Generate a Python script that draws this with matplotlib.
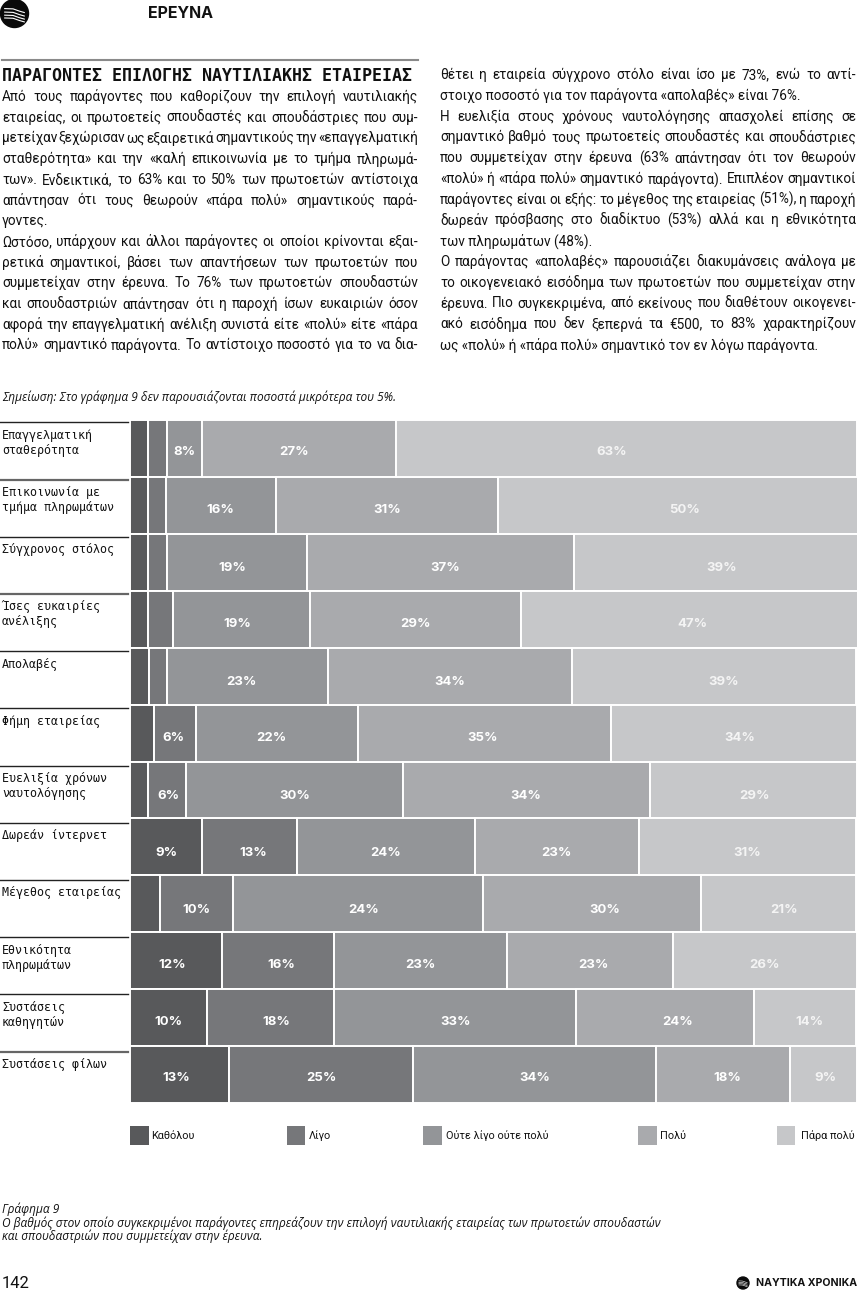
import matplotlib
matplotlib.use('Agg')
import matplotlib.pyplot as plt
from matplotlib.patches import Circle, Rectangle

# factors, top to bottom
factors = [
    'Επαγγελματική\nσταθερότητα', 'Επικοινωνία με\nτμήμα πληρωμάτων', 'Σύγχρονος στόλος',
    'Ίσες ευκαιρίες\nανέλιξης', 'Απολαβές', 'Φήμη εταιρείας',
    'Ευελιξία χρόνων\nναυτολόγησης', 'Δωρεάν ίντερνετ', 'Μέγεθος εταιρείας',
    'Εθνικότητα\nπληρωμάτων', 'Συστάσεις\nκαθηγητών', 'Συστάσεις φίλων',
]
answers = ['Καθόλου', 'Λίγο', 'Ούτε λίγο ούτε πολύ', 'Πολύ', 'Πάρα πολύ']

# segment lengths as measured on the page (share of bar length, in %).
# the printed figure does not scale them exactly to its labels, so the two are kept apart
katholou = [2.4, 2.4, 2.4, 2.4, 2.6, 3.2, 2.4, 9.9, 4.1, 12.6, 10.5, 13.6]
ligo = [2.6, 2.5, 2.6, 3.5, 2.5, 5.9, 5.3, 13.1, 10.0, 15.5, 17.6, 25.3]
oute = [4.9, 15.1, 19.3, 18.9, 22.1, 22.2, 29.8, 24.4, 34.4, 23.7, 33.3, 33.5]
polu = [26.7, 30.6, 36.8, 29.0, 33.6, 34.9, 34.0, 22.6, 30.1, 22.9, 24.5, 18.4]
para_polu = [63.4, 49.5, 39.0, 46.3, 39.1, 33.8, 28.5, 29.9, 21.3, 25.3, 14.0, 9.2]

# printed labels, '' where the segment has none (under 5%)
katholou_lbl = ['', '', '', '', '', '', '', '9%', '', '12%', '10%', '13%']
ligo_lbl = ['', '', '', '', '', '6%', '6%', '13%', '10%', '16%', '18%', '25%']
oute_lbl = ['8%', '16%', '19%', '19%', '23%', '22%', '30%', '24%', '24%', '23%', '33%', '34%']
polu_lbl = ['27%', '31%', '37%', '29%', '34%', '35%', '34%', '23%', '30%', '23%', '24%', '18%']
para_polu_lbl = ['63%', '50%', '39%', '47%', '39%', '34%', '29%', '31%', '21%', '26%', '14%', '9%']

colors = ['#58595b', '#76777a', '#939598', '#a9aaad', '#c6c7c9']

# labels sit a bit off centre in the original (pixels, per row and segment)
nudge_x = [
    [0, 0, 0, -5, -15], [0, 0, 0, 0, 7], [0, 0, -4, 5, 6], [0, 0, -5, 0, 3],
    [0, 0, -6, 0, 10], [0, -2, -6, -2, 6], [0, 1, 0, 0, 1], [0, 3, 0, 0, 0],
    [0, 0, 6, 13, 5], [-4, 3, 0, 4, 0], [0, 6, 0, 12, 4], [-3, 0, 0, 4, 2],
]
nudge_y = [4, 5, 6, 5, 6, 5, 6, 6, 6, 4, 4, 3]

left_col = [
    ('Από τους παράγοντες που καθορίζουν την επιλογή ναυτιλιακής', True),
    ('εταιρείας, οι πρωτοετείς σπουδαστές και σπουδάστριες που συμ-', True),
    ('μετείχαν ξεχώρισαν ως εξαιρετικά σημαντικούς την «επαγγελματική', True),
    ('σταθερότητα» και την «καλή επικοινωνία με το τμήμα πληρωμά-', True),
    ('των». Ενδεικτικά, το 63% και το 50% των πρωτοετών αντίστοιχα', True),
    ('απάντησαν ότι τους θεωρούν «πάρα πολύ» σημαντικούς παρά-', True),
    ('γοντες.', False),
    ('Ωστόσο, υπάρχουν και άλλοι παράγοντες οι οποίοι κρίνονται εξαι-', True),
    ('ρετικά σημαντικοί, βάσει των απαντήσεων των πρωτοετών που', True),
    ('συμμετείχαν στην έρευνα. Το 76% των πρωτοετών σπουδαστών', True),
    ('και σπουδαστριών απάντησαν ότι η παροχή ίσων ευκαιριών όσον', True),
    ('αφορά την επαγγελματική ανέλιξη συνιστά είτε «πολύ» είτε «πάρα', True),
    ('πολύ» σημαντικό παράγοντα. Το αντίστοιχο ποσοστό για το να δια-', True),
]
right_col = [
    ('θέτει η εταιρεία σύγχρονο στόλο είναι ίσο με 73%, ενώ το αντί-', True),
    ('στοιχο ποσοστό για τον παράγοντα «απολαβές» είναι 76%.', False),
    ('Η ευελιξία στους χρόνους ναυτολόγησης απασχολεί επίσης σε', True),
    ('σημαντικό βαθμό τους πρωτοετείς σπουδαστές και σπουδάστριες', True),
    ('που συμμετείχαν στην έρευνα (63% απάντησαν ότι τον θεωρούν', True),
    ('«πολύ» ή «πάρα πολύ» σημαντικό παράγοντα). Επιπλέον σημαντικοί', True),
    ('παράγοντες είναι οι εξής: το μέγεθος της εταιρείας (51%), η παροχή', True),
    ('δωρεάν πρόσβασης στο διαδίκτυο (53%) αλλά και η εθνικότητα', True),
    ('των πληρωμάτων (48%).', False),
    ('Ο παράγοντας «απολαβές» παρουσιάζει διακυμάνσεις ανάλογα με', True),
    ('το οικογενειακό εισόδημα των πρωτοετών που συμμετείχαν στην', True),
    ('έρευνα. Πιο συγκεκριμένα, από εκείνους που διαθέτουν οικογενει-', True),
    ('ακό εισόδημα που δεν ξεπερνά τα  €500, το 83% χαρακτηρίζουν', True),
    ('ως «πολύ» ή «πάρα πολύ» σημαντικό τον εν λόγω παράγοντα.', False),
]

BODY = 'Roboto'
ITALIC = 'Open Sans'
MONO = 'DejaVu Sans Mono'
W, H = 858, 1291

fig = plt.figure(figsize=(W / 100, H / 100), dpi=100, facecolor='white')

# whole page in pixel coordinates, for the text around the chart
page = fig.add_axes([0, 0, 1, 1])
page.set_xlim(0, W)
page.set_ylim(H, 0)
page.axis('off')


def put_line(x0, x1, y, line, justify):
    if not justify:
        page.text(x0, y, line, family=BODY, fontsize=9.8, va='center', color='#111111')
        return
    words = line.split()
    renderer = fig.canvas.get_renderer()
    items = [page.text(0, y, w, family=BODY, fontsize=9.8, va='center', color='#111111') for w in words]
    widths = [t.get_window_extent(renderer).width for t in items]
    gap = (x1 - x0 - sum(widths)) / (len(words) - 1)
    x = x0
    for t, w in zip(items, widths):
        t.set_x(x)
        x += w + gap


def logo(cx, cy, r, lw):
    page.add_patch(Circle((cx, cy), r, color='#0a0a0a', zorder=3))
    for dy in (-0.35, -0.1, 0.12, 0.32):
        page.plot([cx - 0.7 * r, cx - 0.1 * r, cx + 0.35 * r, cx + 0.7 * r],
                  [cy + dy * r, cy + (dy + 0.02) * r, cy + (dy + 0.18) * r, cy + (dy + 0.28) * r],
                  color='white', lw=lw, zorder=4)


# header
logo(14.5, 13.5, 14, 0.8)
page.text(148, 13.5, 'ΕΡΕΥΝΑ', family='Inter', fontsize=11.5, fontweight='bold', va='center', color='#111111')
page.plot([2, 418], [60, 60], color='#8a8a8a', lw=1.5)
page.text(2, 76, 'ΠΑΡΑΓΟΝΤΕΣ ΕΠΙΛΟΓΗΣ ΝΑΥΤΙΛΙΑΚΗΣ ΕΤΑΙΡΕΙΑΣ', family=MONO, fontsize=12,
          fontweight='bold', va='center', color='#111111')

for i, (line, just) in enumerate(left_col):
    put_line(2, 418, 97 + i * 20.7, line, just)
for i, (line, just) in enumerate(right_col):
    put_line(440, 856, 75 + i * 20.77, line, just)

page.text(2, 397, 'Σημείωση: Στο γράφημα 9 δεν παρουσιάζονται ποσοστά μικρότερα του 5%.',
          family=ITALIC, style='italic', fontsize=8.6, va='center', color='#111111')

# chart
ax = fig.add_axes([130.3 / W, 1 - 1103 / H, 726.5 / W, 683 / H])
series = [katholou, ligo, oute, polu, para_polu]
series_lbl = [katholou_lbl, ligo_lbl, oute_lbl, polu_lbl, para_polu_lbl]
rows = range(len(factors))
left = [0] * len(factors)
for s, (vals, lbls) in enumerate(zip(series, series_lbl)):
    ax.barh(rows, vals, left=left, height=1.0, color=colors[s], edgecolor='white', linewidth=1.4)
    for r in rows:
        if lbls[r]:
            ax.annotate(lbls[r], (left[r] + vals[r] / 2, r),
                        xytext=(nudge_x[r][s] * 0.72, -nudge_y[r] * 0.72), textcoords='offset points',
                        ha='center', va='center', family='Inter', fontsize=9.5, fontweight='bold',
                        color='#f4f4f4' if s == 4 else 'white')
    left = [a + b for a, b in zip(left, vals)]
ax.set_xlim(0, 100)
ax.set_ylim(len(factors) - 0.5, -0.5)
ax.axis('off')

# row captions with their rules
for r, name in enumerate(factors):
    rule = 422.3 + r * 57.2
    thick = r in (1, 3, 11)
    page.plot([0, 128], [rule, rule], color='#666666' if thick else '#222222',
              lw=1.6 if thick else 1.0)
    page.text(2, rule + 13, name.split('\n')[0], family=MONO, fontsize=8.4, va='center', color='#111111')
    if '\n' in name:
        page.text(2, rule + 28, name.split('\n')[1], family=MONO, fontsize=8.4, va='center', color='#111111')

# legend
swatch_x = [130, 286.5, 423, 638, 776.5]
text_x = [151, 308.5, 446.5, 660, 801]
for s, name in enumerate(answers):
    page.add_patch(Rectangle((swatch_x[s], 1126), 18.5, 19, color=colors[s], lw=0))
    page.text(text_x[s], 1136, name, family=BODY, fontsize=7.8, va='center', color='#111111')

# caption and footer
page.text(2, 1209, 'Γράφημα 9', family=ITALIC, style='italic', fontsize=8.6, va='center', color='#111111')
page.text(2, 1223, 'Ο βαθμός στον οποίο συγκεκριμένοι παράγοντες επηρεάζουν την επιλογή ναυτιλιακής εταιρείας των πρωτοετών σπουδαστών',
          family=ITALIC, style='italic', fontsize=8.6, va='center', color='#111111')
page.text(2, 1236, 'και σπουδαστριών που συμμετείχαν στην έρευνα.', family=ITALIC, style='italic',
          fontsize=8.6, va='center', color='#111111')
page.text(2, 1284, '142', family=BODY, fontsize=12, va='center', color='#111111')
logo(743, 1283, 6, 0.4)
page.text(857, 1283, 'ΝΑΥΤΙΚΑ ΧΡΟΝΙΚΑ', family='Inter', fontsize=7.6, fontweight='bold',
          ha='right', va='center', color='#111111')

fig.savefig('out.png', dpi=100)
